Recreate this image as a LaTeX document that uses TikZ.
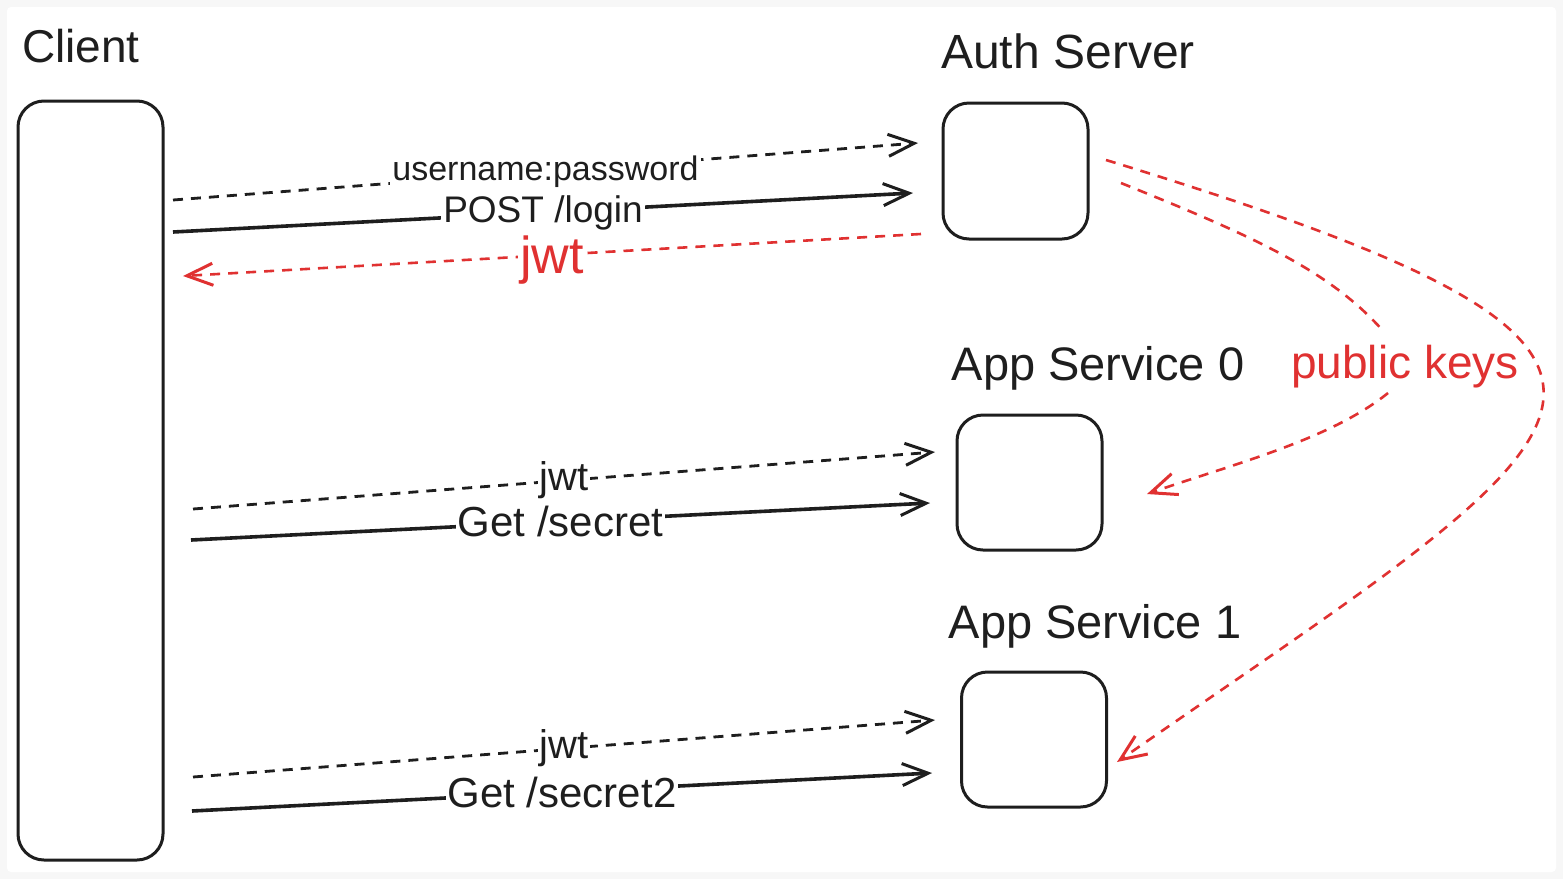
\documentclass[tikz,border=0pt]{standalone}
\usepackage{fontspec}
\setmainfont{Liberation Sans}
\usetikzlibrary{arrows.meta,calc}
\definecolor{ink}{HTML}{1E1E1E}
\definecolor{alert}{HTML}{E03131}
\definecolor{frame}{HTML}{F7F7F7}
\newcommand{\fs}[1]{\fontsize{#1}{#1}\selectfont}

\begin{document}
\begin{tikzpicture}[x=1pt,y=-1pt,
  box/.style={draw=ink, line width=3pt, rounded corners=26pt,
    minimum width=145pt, inner sep=0pt},
  title/.style={text=ink, anchor=base, inner sep=0pt},
  tip/.style={-{Straight Barb[length=26pt,width=22pt,line width=3pt]}},
  dashflow/.style={draw=ink, line width=2.8pt, dash pattern=on 10pt off 8pt, tip},
  flow/.style={draw=ink, line width=3.6pt, tip},
  keyflow/.style={draw=alert, line width=2.6pt, dash pattern=on 10pt off 8pt},
  lbl/.style={fill=white, text=ink, inner sep=2pt},
]
\useasboundingbox (0,0) rectangle (1563,879);
\fill[frame] (0,0) rectangle (1563,879);
\fill[white, rounded corners=4pt] (7,7) rectangle (1556,872);

% participants
\node[box, minimum height=759pt] (client) at (90.5,480.5) {};
\node[box, minimum height=136pt] (auth) at (1015.5,171) {};
\node[box, minimum height=135pt] (app0) at (1029.5,482.5) {};
\node[box, minimum height=135pt] (app1) at (1034,739.5) {};

\node[title, font=\fs{46}] (tclient) at (81,62) {Client};
\node[title, font=\fs{48}] (tauth) at (1068,68) {Auth Server};
\node[title, font=\fs{47}] (tapp0) at (1098,380) {App Service 0};
\node[title, font=\fs{47}] (tapp1) at (1095,638) {App Service 1};
\node[title, font=\fs{46}, text=alert] (pk) at (1405,378) {public keys};

% connector end points
\coordinate (s1) at (173,200);  \coordinate (e1) at (918,143);
\coordinate (s2) at (173,232);  \coordinate (e2) at (913,193);
\coordinate (s3) at (921,234);  \coordinate (e3) at (183,276);
\coordinate (s4) at (193,509);  \coordinate (e4) at (935,452);
\coordinate (s5) at (191,540);  \coordinate (e5) at (930,503);
\coordinate (s6) at (193,777);  \coordinate (e6) at (935,720);
\coordinate (s7) at (192,811);  \coordinate (e7) at (932,773);
\coordinate (k1s) at (1106,160); \coordinate (k1e) at (1117,762);
\coordinate (k2s) at (1121,183); \coordinate (k2m) at (1384,332);
\coordinate (k3m) at (1388,393); \coordinate (k3e) at (1147,494);

% login exchange
\draw[dashflow] (s1) -- node[lbl, font=\fs{34}] {username:password} (e1);
\draw[flow] (s2) -- node[lbl, font=\fs{37}] {POST /login} (e2);
\draw[keyflow, tip] (s3) -- node[lbl, font=\fs{52}, text=alert, yshift=-5pt] {jwt} (e3);

% requests to the app services
\draw[dashflow] (s4) -- node[lbl, font=\fs{40}] {jwt} (e4);
\draw[flow] (s5) -- node[lbl, font=\fs{42}] {Get /secret} (e5);
\draw[dashflow] (s6) -- node[lbl, font=\fs{40}] {jwt} (e6);
\draw[flow] (s7) -- node[lbl, font=\fs{42}] {Get /secret2} (e7);

% public key distribution
\draw[keyflow, tip] (k1s) .. controls (1760,360) and (1610,420) .. (k1e);
\draw[keyflow] (k2s) .. controls (1250,235) and (1330,270) .. (k2m);
\draw[keyflow, tip] (k3m) .. controls (1330,440) and (1230,465) .. (k3e);
\end{tikzpicture}
\end{document}
